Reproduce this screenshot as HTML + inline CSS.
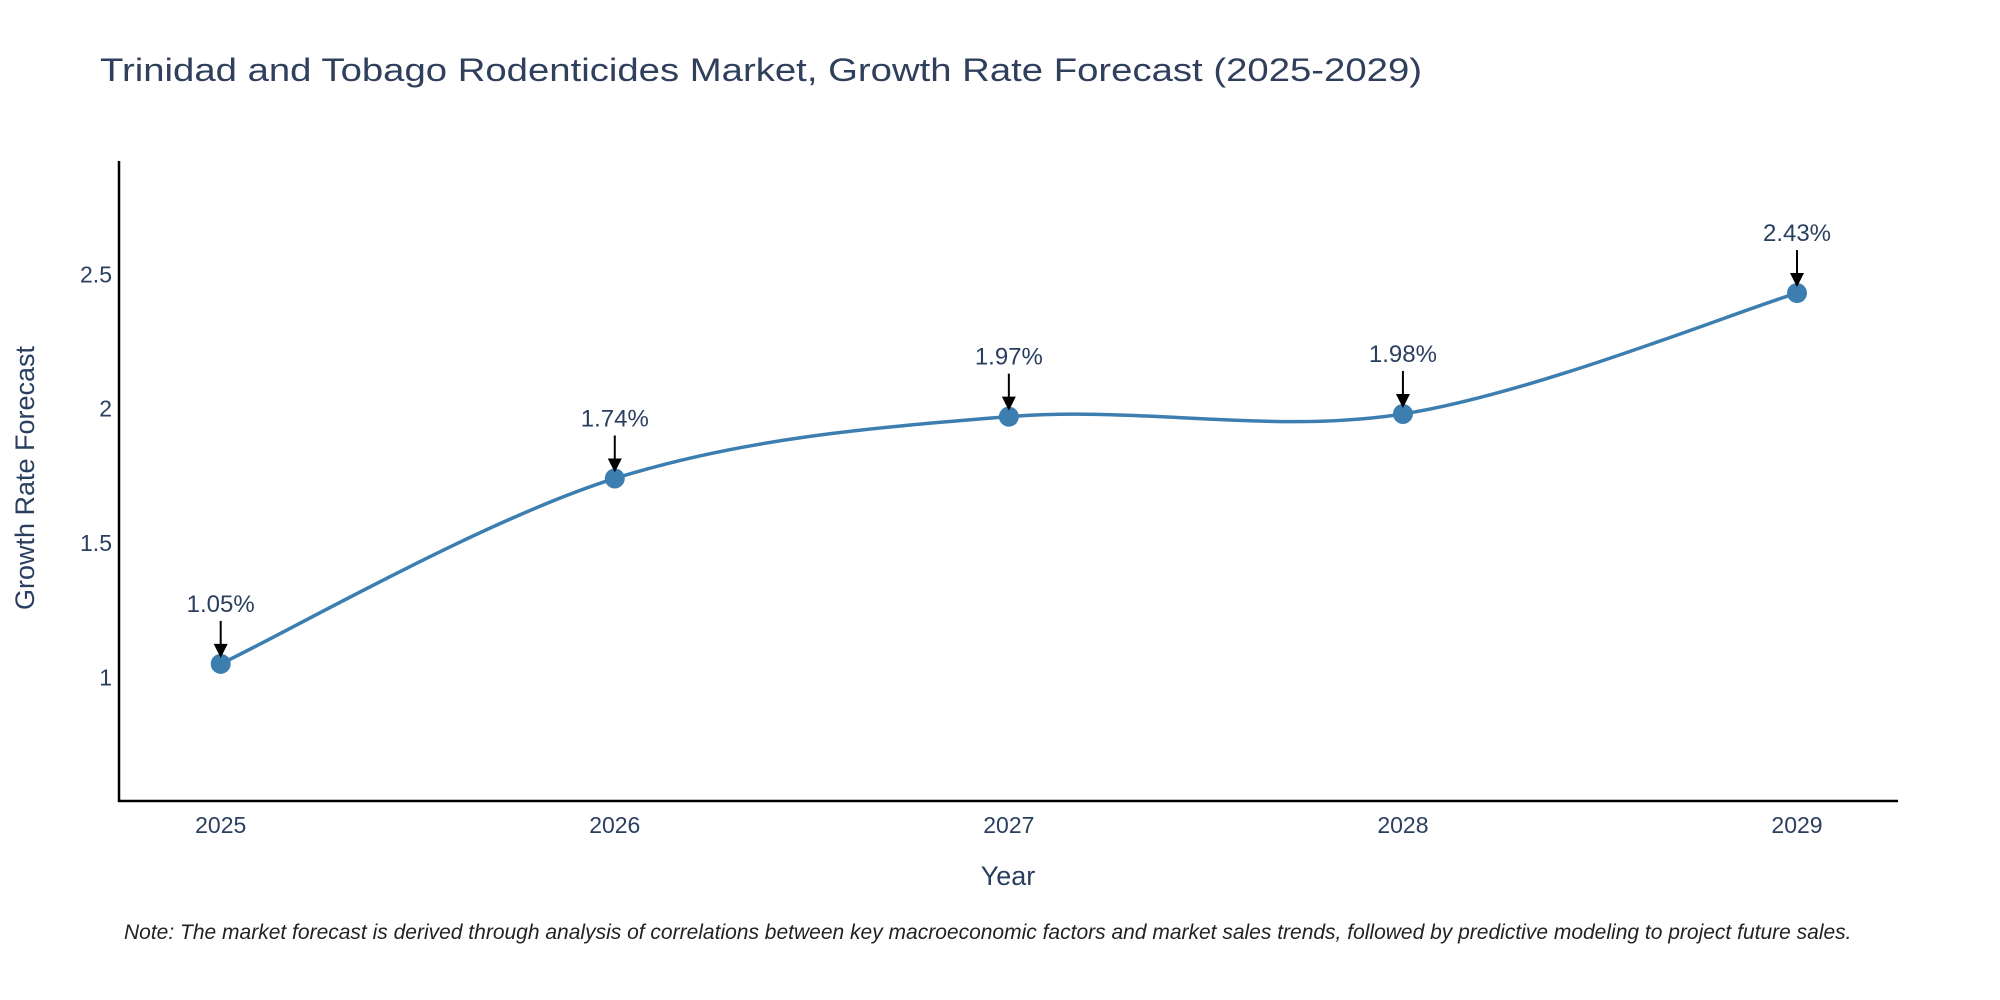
<!DOCTYPE html>
<html><head><meta charset="utf-8"><style>
html,body{margin:0;padding:0;background:#fff;overflow:hidden;}
svg{display:block;font-family:"Liberation Sans",sans-serif;}
</style></head><body>
<svg id="chart" width="2000" height="1000" viewBox="0 0 2000 1000" xmlns="http://www.w3.org/2000/svg">
<text x="100" y="81" font-size="32" fill="#2f3f5c" textLength="1322" lengthAdjust="spacingAndGlyphs">Trinidad and Tobago Rodenticides Market, Growth Rate Forecast (2025-2029)</text>
<g id="yticks"></g>
<g id="xticks"></g>
<line x1="119" y1="161" x2="119" y2="802" stroke="#000" stroke-width="2.5"/>
<line x1="118" y1="801" x2="1898" y2="801" stroke="#000" stroke-width="2.5"/>
<text x="1008" y="885" font-size="27" fill="#2a3f5f" text-anchor="middle">Year</text>
<text transform="translate(34,478) rotate(-90)" font-size="27" fill="#2a3f5f" text-anchor="middle">Growth Rate Forecast</text>
<path id="line" fill="none" stroke="#3d7eb0" stroke-width="3.5"/>
<g id="points"></g>
<g id="annots"></g>
<text x="124" y="939" font-size="21" font-style="italic" fill="#222">Note: The market forecast is derived through analysis of correlations between key macroeconomic factors and market sales trends, followed by predictive modeling to project future sales.</text>
</svg>
<script>
const years = ["2025","2026","2027","2028","2029"];
const values = [1.05, 1.74, 1.97, 1.98, 2.43];
const labels = ["1.05%","1.74%","1.97%","1.98%","2.43%"];
const yTicks = [1, 1.5, 2, 2.5];
const yTickLabels = ["1","1.5","2","2.5"];
const NS="http://www.w3.org/2000/svg";
const x0=220.7, x1=1797;
function xs(i){return x0+(x1-x0)*i/(years.length-1);}
function ys(v){return 677.3-(v-1)*268.7;}
function mk(tag,attrs,parent){const e=document.createElementNS(NS,tag);for(const k in attrs)e.setAttribute(k,attrs[k]);parent.appendChild(e);return e;}
const yt=document.getElementById('yticks');
yTicks.forEach((v,i)=>{const t=mk('text',{x:112,y:ys(v)+8,'font-size':23,fill:'#2a3f5f','text-anchor':'end'},yt);


t.textContent=yTickLabels[i];});
const xt=document.getElementById('xticks');
years.forEach((y,i)=>{const t=mk('text',{x:xs(i),y:833,'font-size':23,fill:'#2a3f5f','text-anchor':'middle'},xt);


t.textContent=y;});
const P=values.map((v,i)=>[xs(i),ys(v)]);
let d='M'+P[0][0]+','+P[0][1];
const s=0.5;
for(let i=0;i<P.length-1;i++){const p0=P[Math.max(0,i-1)],p1=P[i],p2=P[i+1],p3=P[Math.min(P.length-1,i+2)];
const c1=[p1[0]+(p2[0]-p0[0])*s/3,p1[1]+(p2[1]-p0[1])*s/3];
const c2=[p2[0]-(p3[0]-p1[0])*s/3,p2[1]-(p3[1]-p1[1])*s/3];
d+=' C'+c1+' '+c2+' '+p2;}
document.getElementById('line').setAttribute('d',d);
const pg=document.getElementById('points'), ag=document.getElementById('annots');
P.forEach((p,i)=>{const c=mk('circle',{cx:p[0],cy:p[1],r:10,fill:'#3d7eb0'},pg);


const l=mk('line',{x1:p[0],y1:p[1]-43,x2:p[0],y2:p[1]-18,stroke:'#000','stroke-width':2},ag);


const h=mk('polygon',{points:(p[0]-7)+','+(p[1]-20)+' '+(p[0]+7)+','+(p[1]-20)+' '+p[0]+','+(p[1]-6),fill:'#000'},ag);


const t=mk('text',{x:p[0],y:p[1]-52,'font-size':24,fill:'#2a3f5f','text-anchor':'middle'},ag);


t.textContent=labels[i];});
</script>
</body></html>
